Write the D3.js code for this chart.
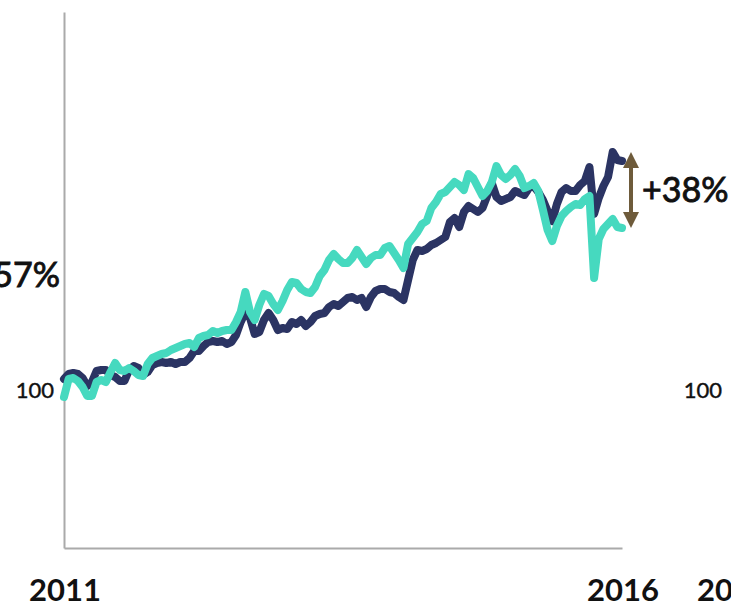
<!DOCTYPE html>
<html>
<head>
<meta charset="utf-8">
<script src="https://cdn.jsdelivr.net/npm/d3@7"></script>
<style>
  html, body { margin: 0; padding: 0; background: #fff; overflow: hidden; }
  svg { display: block; }
  text { font-family: Lato, "Open Sans", sans-serif; fill: #111; }
</style>
</head>
<body>
<svg id="chart" width="731" height="607"></svg>
<script>
// Index levels (start = 100), sampled twice a month from Jan 2011 to Jan 2016
const startYear = 2011;
const endYear = 2016;
const stepsPerYear = 24;

const fundValues = [
  104.5, 107, 107.5, 107, 105, 101, 103, 108.5, 109, 109,
  106.5, 105.5, 103.5, 103.5, 109, 111, 110, 106.5, 108, 111.5,
  112.5, 113, 112.5, 113, 112, 113, 113, 115, 118.5, 118.5,
  121, 123, 123.5, 123, 123.5, 122, 123, 126.5, 133, 138,
  135, 127, 128, 134, 137.5, 134, 129, 130, 129.5, 133,
  132, 134, 131, 133, 136, 137, 137.5, 140.5, 142, 141,
  143, 145, 145.5, 144, 145, 140.5, 145.5, 148.5, 149.5, 149.5,
  148, 147.5, 145.5, 144, 154, 164, 169, 168.5, 169.5, 171.5,
  172.5, 174, 175.5, 183, 185, 180.5, 188, 191, 189.5, 188,
  190, 196, 202.5, 195.5, 193.5, 194.5, 195.5, 198.5, 197.5, 196.5,
  200, 201, 198, 194, 188.5, 183.5, 192, 198, 200, 198.5,
  198.5, 201.5, 203.5, 210.5, 187, 195, 201, 205.5, 218, 214,
  213.5
];

const benchmarkValues = [
  95.5, 104.5, 105, 103.5, 100.5, 96, 96, 103, 104, 103,
  108, 112.5, 109, 108.5, 110, 108.5, 106.5, 106, 112, 115,
  116, 117, 117.5, 119, 120, 121, 122, 122.5, 120.5, 125,
  126, 126.5, 128.5, 127.5, 128.5, 129, 129, 133, 138, 148,
  138, 134, 141.5, 147, 146, 142, 139, 143.5, 149, 153,
  152.5, 149.5, 148, 147.5, 150.5, 156, 159, 164, 167, 164.5,
  162.5, 162.5, 165, 169, 165.5, 162, 165, 166.5, 166.5, 170,
  171, 167.5, 164, 160, 172, 175, 178, 182, 183.5, 190,
  193, 197, 198, 200.5, 203, 201.5, 199, 207, 205, 200.5,
  196, 198.5, 203, 211, 206.5, 204.5, 206.5, 209.5, 206, 200,
  201, 202.5, 198.5, 189, 179, 173.5, 181, 186, 188.5, 190.5,
  192, 191.5, 194.5, 196, 155, 174.5, 179.5, 182, 184.5, 180.5,
  180
];

const yearLabels = ["2011", "2016"];
const nextPanelYear = "2011";
const baseLabel = "100";
const gapLabel = "+38%";
const previousGapLabel = "57%";

const svg = d3.select("#chart");

const x = d3.scaleLinear().domain([startYear, endYear]).range([64, 622]);
const y = d3.scaleLinear().domain([20, 288]).range([548, 12]);

const toPoints = vals => vals.map((v, i) => ({ t: startYear + i / stepsPerYear, v }));

// axes: plain grey spines, no ticks
const axisColor = "#aaaaaa";
svg.append("g")
  .attr("transform", `translate(${x(startYear)},0)`)
  .call(d3.axisLeft(y).tickValues([]).tickSizeOuter(0))
  .call(g => g.select(".domain").attr("stroke", axisColor).attr("stroke-width", 2));
svg.append("g")
  .attr("transform", `translate(0,${y.range()[0]})`)
  .call(d3.axisBottom(x).tickValues([]).tickSizeOuter(0))
  .call(g => g.select(".domain").attr("stroke", axisColor).attr("stroke-width", 2));

const line = d3.line().x(d => x(d.t)).y(d => y(d.v));

svg.append("path")
  .datum(toPoints(fundValues))
  .attr("d", line)
  .attr("fill", "none")
  .attr("stroke", "#2b3463")
  .attr("stroke-width", 8)
  .attr("stroke-linejoin", "round")
  .attr("stroke-linecap", "round");

svg.append("path")
  .datum(toPoints(benchmarkValues))
  .attr("d", line)
  .attr("fill", "none")
  .attr("stroke", "#46d9bf")
  .attr("stroke-width", 8)
  .attr("stroke-linejoin", "round")
  .attr("stroke-linecap", "round");

// double-headed arrow showing the gap between the two lines
const arrowX = 631;
const topY = y(d3.max(fundValues));
const botY = y(benchmarkValues[benchmarkValues.length - 1]);
const head = 16, halfW = 8;
const arrowColor = "#6e5b3b";
svg.append("line")
  .attr("x1", arrowX).attr("x2", arrowX)
  .attr("y1", topY + head - 1).attr("y2", botY - head + 1)
  .attr("stroke", arrowColor).attr("stroke-width", 4);
svg.append("path")
  .attr("d", `M${arrowX},${topY}L${arrowX + halfW},${topY + head}L${arrowX - halfW},${topY + head}Z`)
  .attr("fill", arrowColor);
svg.append("path")
  .attr("d", `M${arrowX},${botY}L${arrowX + halfW},${botY - head}L${arrowX - halfW},${botY - head}Z`)
  .attr("fill", arrowColor);

svg.append("text")
  .attr("x", 642).attr("y", 202)
  .attr("font-size", 34).attr("font-weight", 400)
  .attr("stroke", "#111").attr("stroke-width", 0.9)
  .text(gapLabel);

svg.append("text")
  .attr("x", 60).attr("y", 287)
  .attr("text-anchor", "end")
  .attr("font-size", 34).attr("font-weight", 400)
  .attr("stroke", "#111").attr("stroke-width", 0.9)
  .text(previousGapLabel);

// base level labels (this panel and the next one)
[54, 722].forEach(px => {
  svg.append("text")
    .attr("x", px).attr("y", y(100) + 10)
    .attr("text-anchor", "end")
    .attr("font-size", 22).attr("font-weight", 400)
    .attr("stroke", "#111").attr("stroke-width", 0.4)
    .text(baseLabel);
});

// year labels
yearLabels.forEach((lab, i) => {
  svg.append("text")
    .attr("x", x(i === 0 ? startYear : endYear) + 1).attr("y", 601)
    .attr("text-anchor", "middle")
    .attr("font-size", 31).attr("font-weight", 700)
    .text(lab);
});
svg.append("text")
  .attr("x", 697).attr("y", 601)
  .attr("font-size", 31).attr("font-weight", 700)
  .text(nextPanelYear);
</script>
</body>
</html>
